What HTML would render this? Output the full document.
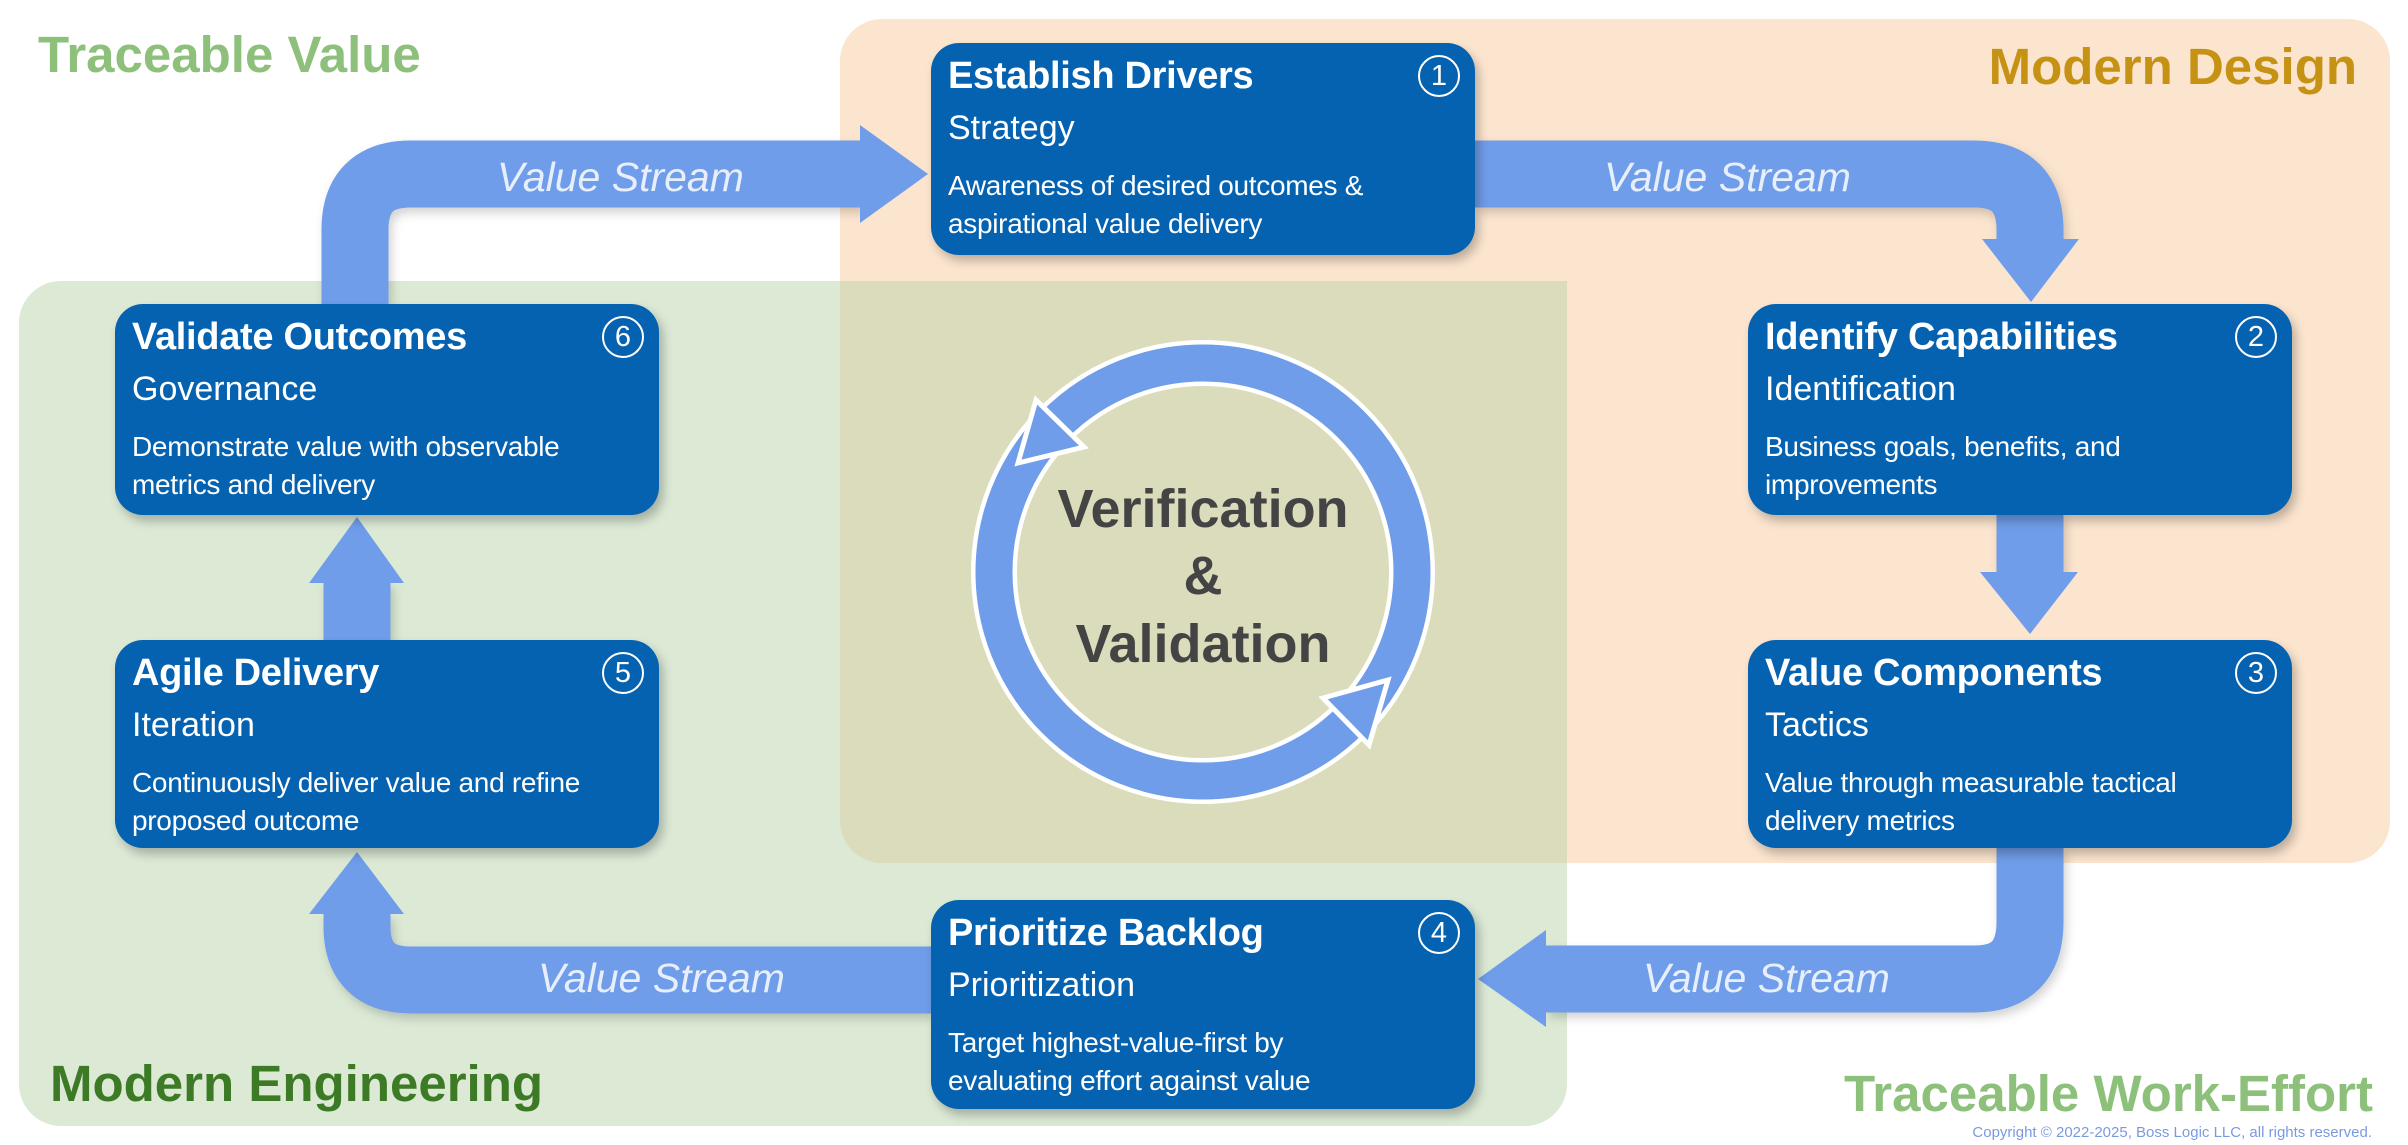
<!DOCTYPE html>
<html><head><meta charset="utf-8"><style>
html,body{margin:0;padding:0}
body{width:2408px;height:1145px;position:relative;overflow:hidden;background:#fff;font-family:"Liberation Sans",sans-serif}
.abs{position:absolute}
.box{position:absolute;width:544px;background:#0562b0;border-radius:28px;box-shadow:4px 6px 10px rgba(0,0,0,0.25);color:#fff}
.box .t{position:absolute;left:17px;top:11px;font-weight:bold;font-size:38px;line-height:44px;white-space:nowrap;letter-spacing:-0.3px}
.box .s{position:absolute;left:17px;top:65px;font-size:34px;line-height:40px;white-space:nowrap}
.box .d{position:absolute;left:17px;top:124px;font-size:28px;line-height:38px;white-space:nowrap;letter-spacing:-0.3px}
.box .n{position:absolute;right:15px;top:12px;width:38px;height:38px;border:2.5px solid #fff;border-radius:50%;font-size:29px;line-height:38px;text-align:center}
.hdr{position:absolute;font-weight:bold;font-size:51px;white-space:nowrap;line-height:56px}
.vs{position:absolute;font-style:italic;font-size:41px;color:#e8effc;white-space:nowrap;line-height:44px}
</style></head><body>
<div class="abs" style="left:840px;top:19px;width:1550px;height:844px;background:#fce5cf;border-radius:42px"></div>
<div class="abs" style="left:19px;top:281px;width:1548px;height:845px;background:#dbe9d5;border-radius:42px"></div>
<div class="abs" style="left:840px;top:281px;width:727px;height:582px;background:#dadcbc;border-radius:0 0 0 42px"></div>

<svg class="abs" style="left:0;top:0" width="2408" height="1145">
<defs><filter id="sh" x="-5%" y="-5%" width="110%" height="115%"><feDropShadow dx="3" dy="5" stdDeviation="5" flood-color="#000" flood-opacity="0.18"/></filter></defs>
<g fill="none" stroke="#6f9de9" stroke-width="67" filter="url(#sh)">
<path d="M355 304 V230 Q355 174 411 174 H862"/>
<path d="M1475 174 H1974 Q2030 174 2030 230 V241"/>
<path d="M2030 515 V574"/>
<path d="M2030 848 V922 Q2030 979 1974 979 H1546"/>
<path d="M931 980 H411 Q357 980 357 926 V914"/>
<path d="M357 640 V582"/>
</g>
<g fill="#6f9de9">
<polygon points="860,125 928,174 860,223"/>
<polygon points="1982,239 2079,239 2031,302"/>
<polygon points="1980,572 2078,572 2030,634"/>
<polygon points="1546,930 1478,979 1546,1027"/>
<polygon points="309,914 404,914 357,852"/>
<polygon points="309,583 404,583 357,517"/>
</g>
<circle cx="1203" cy="572" r="209" fill="none" stroke="#fff" stroke-width="46"/>
<circle cx="1203" cy="572" r="209" fill="none" stroke="#6f9de9" stroke-width="37"/>
<polygon points="1018,463 1036,400 1084,447" fill="#6f9de9" stroke="#fff" stroke-width="5" stroke-linejoin="miter"/>
<polygon points="1369,745 1388,680 1323,698" fill="#6f9de9" stroke="#fff" stroke-width="5" stroke-linejoin="miter"/>
<g font-family="Liberation Sans, sans-serif" font-weight="bold" font-size="54" fill="#444" text-anchor="middle">
<text x="1203" y="527">Verification</text>
<text x="1203" y="594">&amp;</text>
<text x="1203" y="662">Validation</text>
</g>
</svg>

<div class="vs" style="left:497px;top:155px">Value Stream</div>
<div class="vs" style="left:1604px;top:155px">Value Stream</div>
<div class="vs" style="left:1643px;top:956px">Value Stream</div>
<div class="vs" style="left:538px;top:956px">Value Stream</div>

<div class="hdr" style="left:38px;top:27px;color:#8dc07a">Traceable Value</div>
<div class="hdr" style="right:51px;top:39px;color:#c69214">Modern Design</div>
<div class="hdr" style="left:50px;top:1056px;color:#3d7a25">Modern Engineering</div>
<div class="hdr" style="right:35px;top:1066px;color:#8dc07a">Traceable Work-Effort</div>
<div class="abs" style="right:36px;top:1124px;font-size:15px;color:#7a9ae0;white-space:nowrap">Copyright © 2022-2025, Boss Logic LLC, all rights reserved.</div>

<div class="box" style="left:931px;top:43px;height:212px"><div class="t">Establish Drivers</div><div class="s">Strategy</div><div class="d">Awareness of desired outcomes &amp;<br>aspirational value delivery</div><div class="n">1</div></div>
<div class="box" style="left:1748px;top:304px;height:211px"><div class="t">Identify Capabilities</div><div class="s">Identification</div><div class="d">Business goals, benefits, and<br>improvements</div><div class="n">2</div></div>
<div class="box" style="left:1748px;top:640px;height:208px"><div class="t">Value Components</div><div class="s">Tactics</div><div class="d">Value through measurable tactical<br>delivery metrics</div><div class="n">3</div></div>
<div class="box" style="left:931px;top:900px;height:209px"><div class="t">Prioritize Backlog</div><div class="s">Prioritization</div><div class="d">Target highest-value-first by<br>evaluating effort against value</div><div class="n">4</div></div>
<div class="box" style="left:115px;top:640px;height:208px"><div class="t">Agile Delivery</div><div class="s">Iteration</div><div class="d">Continuously deliver value and refine<br>proposed outcome</div><div class="n">5</div></div>
<div class="box" style="left:115px;top:304px;height:211px"><div class="t">Validate Outcomes</div><div class="s">Governance</div><div class="d">Demonstrate value with observable<br>metrics and delivery</div><div class="n">6</div></div>
</body></html>
